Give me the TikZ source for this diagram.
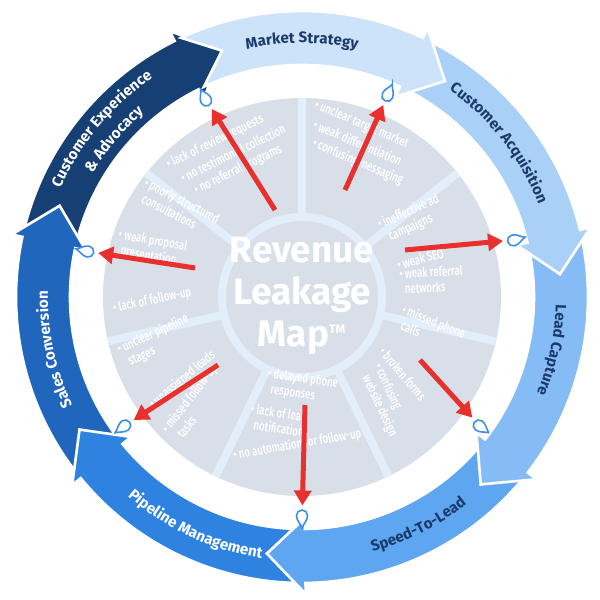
\documentclass[tikz,border=0pt]{standalone}
\usepackage{fontspec}
\setmainfont{Fira Sans}
\newfontfamily\condfont[FakeStretch=0.72]{Fira Sans Medium}
\usetikzlibrary{arrows.meta,decorations.text}

\definecolor{diskgray}{HTML}{D9DFE8}
\definecolor{spokeblue}{HTML}{E3EEFB}
\definecolor{leakred}{HTML}{E8302F}
\definecolor{dropblue}{HTML}{3D8EE8}
\definecolor{navytext}{HTML}{1B3A6B}
\definecolor{segA}{HTML}{CDE3FA}
\definecolor{segB}{HTML}{A9D0F7}
\definecolor{segC}{HTML}{86BCF5}
\definecolor{segD}{HTML}{5EA6F0}
\definecolor{segE}{HTML}{2E83E0}
\definecolor{segF}{HTML}{2166BD}
\definecolor{segG}{HTML}{163F74}

\tikzset{
  leak/.style={font=\condfont\fontsize{7.6}{8.8}\selectfont, text=white, inner sep=0pt, align=left},
  leakarrow/.style={draw=leakred, line width=0.1cm, -{Triangle[length=0.3cm,width=0.34cm]}, shorten >=0.25cm},
  drop/.style={draw=dropblue, fill=white, line width=0.9pt},
  ringtext/.style={decorate, decoration={text along path, text align=center, text={#1}}}
}

\newcommand{\ringseg}[2]{% center angle, fill
  \pgfmathsetmacro{\aone}{#1+25}
  \pgfmathsetmacro{\atwo}{#1-25}
  \fill[#2, draw=white, line width=1.5pt]
    (\aone:5.72) arc[start angle=\aone, end angle=\atwo, radius=5.72]
    -- (\atwo:5.94) -- (\atwo-8.5:5.18) -- (\atwo:4.42) -- (\atwo:4.64)
    arc[start angle=\atwo, end angle=\aone, radius=4.64]
    -- (\aone-7:5.18) -- cycle;
}
\newcommand{\dropat}[2]{% name, angle
  \coordinate (#1) at (#2:4.42);
  \draw[drop, shift={(#1)}, rotate=#2-90]
    (0,0.2) to[out=-70,in=90] (0.11,-0.05)
    arc[start angle=0, end angle=-180, radius=0.11]
    to[out=90,in=-110] cycle;
}

\begin{document}
\begin{tikzpicture}
  \useasboundingbox (-6.04,-6.06) rectangle (5.96,5.94);

  % outer ring of arrows
  \ringseg{141.43}{segG}
  \ringseg{-167.14}{segF}
  \ringseg{-115.71}{segE}
  \ringseg{-64.29}{segD}
  \ringseg{-12.86}{segC}
  \ringseg{38.57}{segB}
  \ringseg{90}{segA}

  % ring labels
  \def\rf{|\fontsize{8.6}{10}\bfseries\color{navytext}|}
  \def\rw{|\fontsize{8.6}{10}\bfseries\color{white}|}
  \path[ringtext={\rf Market Strategy}] (118:5.08) arc[start angle=118, end angle=62, radius=5.08];
  \path[ringtext={\rf Customer Acquisition}] (72:5.08) arc[start angle=72, end angle=4, radius=5.08];
  \path[ringtext={\rf Lead Capture}] (20:5.08) arc[start angle=20, end angle=-44, radius=5.08];
  \path[ringtext={\rf Speed-To-Lead}] (-96:5.29) arc[start angle=-96, end angle=-30, radius=5.29];
  \path[ringtext={\rw Pipeline Management}] (-150:5.29) arc[start angle=-150, end angle=-80, radius=5.29];
  \path[ringtext={\rw Sales Conversion}] (226:5.08) arc[start angle=226, end angle=158, radius=5.08];
  \path[ringtext={\rw Customer Experience}] (174:5.3) arc[start angle=174, end angle=106, radius=5.3];
  \path[ringtext={\rw {\&} Advocacy}] (168:4.86) arc[start angle=168, end angle=112, radius=4.86];

  % leakage disk
  \fill[diskgray] (0,0) circle[radius=3.98];
  \foreach \a in {90,38.57,-12.86,-64.29,-115.71,-167.14,141.43}
    \draw[spokeblue, line width=0.16cm] (\a:1.6) -- (\a:3.98);
  \draw[spokeblue, fill=diskgray, line width=0.16cm] (0,0) circle[radius=1.6];
  \node[font=\fontsize{21}{24}\bfseries\selectfont, text=white, align=center] (title) at (0,0.02)
    {Revenue\\Leakage\\Map\textsuperscript{\scriptsize TM}};

  % leak items
  \node[leak, rotate=26, anchor=west] (tl1) at (-2.70,2.64) {• lack of review requests};
  \node[leak, rotate=26, anchor=west] (tl2) at (-2.42,2.38) {• no testimonial collection};
  \node[leak, rotate=26, anchor=west] (tl3) at (-2.14,2.12) {• no referral programs};
  \node[leak, rotate=-27, anchor=base west] (l1) at (-3.32,1.94) {• poorly structured\\\ \ consultations};
  \node[leak, rotate=-10, anchor=base west] (l2) at (-3.74,0.86) {• weak proposal\\\ \ presentation};
  \node[leak, rotate=12, anchor=west] (l3) at (-3.78,-0.24) {• lack of follow-up};
  \node[leak, rotate=-23, anchor=west] (tr1) at (0.26,3.84) {• unclear target market};
  \node[leak, rotate=-23, anchor=west] (tr2) at (0.24,3.46) {• weak differentiation};
  \node[leak, rotate=-23, anchor=west] (tr3) at (0.22,3.08) {• confusing messaging};
  \node[leak, rotate=24, anchor=base west] (r1) at (1.68,1.08) {• ineffective ad\\\ \ campaigns};
  \node[leak, rotate=15, anchor=west] (r2) at (1.90,0.64) {• weak SEO};
  \node[leak, rotate=3, anchor=base west] (r3) at (1.96,0.06) {• weak referral\\\ \ networks};
  \node[leak, rotate=-22, anchor=base west] (br1) at (1.86,-0.62) {• missed phone\\\ \ calls};
  \node[leak, rotate=-50, anchor=west] (br2) at (1.60,-1.04) {• broken forms};
  \node[leak, rotate=-65, anchor=base west] (br3) at (1.16,-1.52) {• confusing\\\ \ website design};
  \node[leak, rotate=-8, anchor=base west] (b1) at (-0.74,-1.92) {• delayed phone\\\ \ responses};
  \node[leak, rotate=-8, anchor=base west] (b2) at (-1.08,-2.64) {• lack of lead\\\ \ notifications};
  \node[leak, rotate=10, anchor=west] (b3) at (-1.38,-3.18) {• no automation for follow-up};
  \node[leak, rotate=25, anchor=base west] (bl1) at (-3.52,-1.42) {• unclear pipeline\\\ \ stages};
  \node[leak, rotate=40, anchor=west] (bl2) at (-3.02,-2.18) {• unassigned leads};
  \node[leak, rotate=52, anchor=base west] (bl3) at (-2.44,-2.92) {• missed follow-up\\\ \ tasks};

  % droplets
  \dropat{d1}{116}
  \dropat{d2}{67}
  \dropat{d3}{15}
  \dropat{d4}{-36}
  \dropat{d5}{-90}
  \dropat{d6}{-144}
  \dropat{d7}{168}

  % leak arrows
  \coordinate (s1) at (-0.54,1.74);
  \coordinate (s2) at (0.86,2.14);
  \coordinate (s3) at (2.06,0.94);
  \coordinate (s4) at (2.36,-1.26);
  \coordinate (s5) at (0.06,-2.16);
  \coordinate (s6) at (-1.68,-1.36);
  \coordinate (s7) at (-2.14,0.58);
  \foreach \i in {1,...,7}
    \draw[leakarrow] (s\i) -- (d\i);
\end{tikzpicture}
\end{document}
